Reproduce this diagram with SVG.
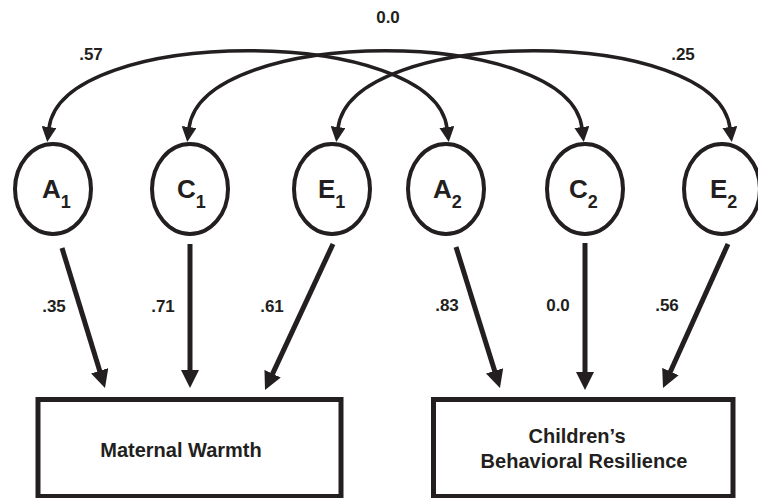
<svg xmlns="http://www.w3.org/2000/svg" width="758" height="498" viewBox="0 0 758 498">
<defs>
<style>
.bg{fill:#fff}
.node{fill:#fff;stroke:#231f20;stroke-width:4}
.box{fill:#fff;stroke:#231f20;stroke-width:5}
.lat{font-family:"Liberation Sans",Arial,sans-serif;font-weight:bold;font-size:26px;fill:#231f20}
.sub{font-size:18px}
.lbl{font-family:"Liberation Sans",Arial,sans-serif;font-weight:bold;font-size:17px;fill:#231f20;text-anchor:middle}
.name{font-family:"Liberation Sans",Arial,sans-serif;font-weight:bold;font-size:20px;fill:#231f20;text-anchor:middle}
.path{fill:none;stroke:#231f20;stroke-width:5;marker-end:url(#ah)}
.cov{fill:none;stroke:#231f20;stroke-width:3.5;marker-start:url(#ahs);marker-end:url(#ahs)}
</style>
<marker id="ah" markerUnits="userSpaceOnUse" markerWidth="18" markerHeight="18" refX="1" refY="9" orient="auto">
<path d="M0,0 L18,9 L0,18 z" fill="#231f20"/>
</marker>
<marker id="ahs" markerUnits="userSpaceOnUse" markerWidth="15" markerHeight="15" refX="1" refY="7.5" orient="auto-start-reverse">
<path d="M0,0 L15,7.5 L0,15 z" fill="#231f20"/>
</marker>
</defs>
<rect class="bg" x="0" y="0" width="758" height="498"/>
<g id="connectors">
<path class="cov" d="M49,128 C62,25 434,25 447,128"/>
<path class="cov" d="M189,128 C202,25 569,25 582,128"/>
<path class="cov" d="M338,128 C351,25 717,25 730,128"/>
<line class="path" x1="62" y1="248" x2="100" y2="371.7"/>
<line class="path" x1="190" y1="244" x2="190" y2="371"/>
<line class="path" x1="333" y1="244" x2="272.2" y2="374.6"/>
<line class="path" x1="456" y1="247" x2="494.9" y2="371.8"/>
<line class="path" x1="585" y1="243" x2="585" y2="373"/>
<line class="path" x1="728" y1="244" x2="670" y2="372.5"/>
</g>
<g id="labels">
<text class="lbl" x="388" y="23">0.0</text>
<text class="lbl" x="91" y="60">.57</text>
<text class="lbl" x="683" y="60">.25</text>
<text class="lbl" x="54" y="312">.35</text>
<text class="lbl" x="163" y="312">.71</text>
<text class="lbl" x="272" y="312">.61</text>
<text class="lbl" x="447" y="311">.83</text>
<text class="lbl" x="558" y="311">0.0</text>
<text class="lbl" x="667" y="311">.56</text>
</g>
<g id="A1"><ellipse class="node" cx="53" cy="189" rx="38" ry="45"/><text class="lat" x="42" y="198">A<tspan class="sub" dy="10">1</tspan></text></g>
<g id="C1"><ellipse class="node" cx="190" cy="189" rx="38" ry="45"/><text class="lat" x="177" y="198">C<tspan class="sub" dy="10">1</tspan></text></g>
<g id="E1"><ellipse class="node" cx="332" cy="189" rx="38" ry="45"/><text class="lat" x="318" y="198">E<tspan class="sub" dy="10">1</tspan></text></g>
<g id="A2"><ellipse class="node" cx="446" cy="189" rx="38" ry="45"/><text class="lat" x="433" y="198">A<tspan class="sub" dy="10">2</tspan></text></g>
<g id="C2"><ellipse class="node" cx="585" cy="189" rx="38" ry="45"/><text class="lat" x="569" y="198">C<tspan class="sub" dy="10">2</tspan></text></g>
<g id="E2"><ellipse class="node" cx="722" cy="189" rx="38" ry="45"/><text class="lat" x="710" y="198">E<tspan class="sub" dy="10">2</tspan></text></g>
<g id="maternal"><rect class="box" x="38" y="399.5" width="303" height="97"/><text class="name" x="181" y="457">Maternal Warmth</text></g>
<g id="children"><rect class="box" x="433.5" y="399.5" width="299.5" height="97"/><text class="name" x="577" y="443">Children’s</text><text class="name" x="584" y="468">Behavioral Resilience</text></g>
</svg>
